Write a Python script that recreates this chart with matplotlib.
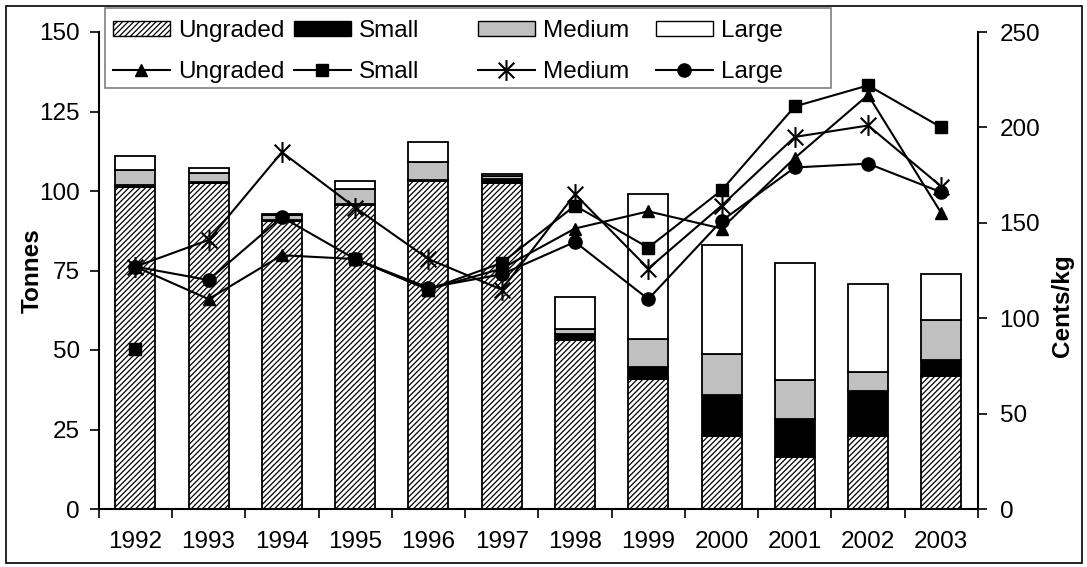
import numpy as np
import matplotlib
matplotlib.use('Agg')
import matplotlib.pyplot as plt
from matplotlib.path import Path
from matplotlib.patches import Rectangle, Patch
from matplotlib.lines import Line2D

plt.rcParams['font.family'] = ['Liberation Sans', 'DejaVu Sans']
plt.rcParams['hatch.linewidth'] = 0.9
plt.rcParams['hatch.color'] = 'black'

# ---- data ----
years = ['1992', '1993', '1994', '1995', '1996', '1997',
         '1998', '1999', '2000', '2001', '2002', '2003']
# Tonnes (stacked bars)
ungraded_t = [101.4, 102.5, 90.5, 95.5, 103.3, 102.6, 53.0, 41.0, 22.8, 16.5, 22.8, 41.7]
small_t    = [0.6, 0.3, 0.3, 0.4, 0.3, 1.2, 2.0, 3.6, 13.1, 11.8, 14.3, 5.3]
medium_t   = [4.6, 2.8, 1.7, 4.6, 5.5, 0.8, 1.7, 9.0, 12.9, 12.3, 6.1, 12.4]
large_t    = [4.4, 1.6, 0.3, 2.5, 6.3, 0.7, 10.1, 45.5, 34.3, 36.9, 27.6, 14.5]
# Cents/kg (lines)
ungraded_c = [127, 110, 133, 131, 115, 126, 147, 156, 147, 184, 217, 155]
small_c    = [84, np.nan, np.nan, 131, 115, 129, 159, 137, 167, 211, 222, 200]
medium_c   = [127, 141, 187, 158, 131, 115, 165, 126, 159, 195, 201, 169]
large_c    = [127, 120, 153, 131, 116, 123, 140, 110, 151, 179, 181, 166]
labels = ['Ungraded', 'Small', 'Medium', 'Large']

W, H = 1087, 567
fig = plt.figure(figsize=(W / 100, H / 100), dpi=100)

def fx(px):
    return px / W

def fy(py):
    return 1 - py / H

AX_L, AX_R = 98.7, 978
ax = fig.add_axes([fx(AX_L), fy(509), fx(AX_R) - fx(AX_L), fy(32) - fy(509)])
ax2 = ax.twinx()

x = np.arange(len(years))
bw = 0.546
ec = 'black'
lw_bar = 1.3
hatch = '//////'
b1 = ax.bar(x, ungraded_t, bw, color='white', edgecolor=ec, linewidth=lw_bar, hatch=hatch)
b2 = ax.bar(x, small_t, bw, bottom=np.array(ungraded_t), color='black', edgecolor=ec, linewidth=lw_bar)
bot3 = np.array(ungraded_t) + np.array(small_t)
b3 = ax.bar(x, medium_t, bw, bottom=bot3, color='#c0c0c0', edgecolor=ec, linewidth=lw_bar)
bot4 = bot3 + np.array(medium_t)
b4 = ax.bar(x, large_t, bw, bottom=bot4, color='white', edgecolor=ec, linewidth=lw_bar)

star = Path([(0, -1), (0, 1), (-0.75, -0.75), (0.75, 0.75), (-0.75, 0.75), (0.75, -0.75)],
            [Path.MOVETO, Path.LINETO, Path.MOVETO, Path.LINETO, Path.MOVETO, Path.LINETO])

lk = dict(color='black', linewidth=1.5)
l1, = ax2.plot(x, ungraded_c, marker='^', markersize=9, **lk)
l2, = ax2.plot(x, small_c, marker='s', markersize=9, **lk)
l3, = ax2.plot(x, medium_c, marker=star, markersize=15, markerfacecolor='none',
               markeredgecolor='black', markeredgewidth=1.5, **lk)
l4, = ax2.plot(x, large_c, marker='o', markersize=9.5, **lk)

ax.set_xlim(-0.5, len(years) - 0.5)
ax.set_ylim(0, 150)
ax2.set_ylim(0, 250)
ax.set_yticks(np.arange(0, 151, 25))
ax2.set_yticks(np.arange(0, 251, 50))
ax.set_xticks(x)
ax.set_xticklabels(years)
ax.set_xticks(np.arange(-0.5, len(years), 1), minor=True)

fs = 17.5
ax.tick_params(axis='x', which='major', length=0, pad=16, labelsize=fs)
ax.tick_params(axis='x', which='minor', length=6.5, width=1.2, direction='out')
ax.tick_params(axis='y', length=6.5, width=1.2, pad=7, labelsize=fs, direction='out')
ax2.tick_params(axis='y', length=6.5, width=1.2, pad=9, labelsize=fs, direction='out')

for a in (ax, ax2):
    a.spines['top'].set_visible(False)
    for s in a.spines.values():
        s.set_linewidth(1.5)
ax.spines['right'].set_visible(False)
ax2.spines['left'].set_visible(False)
ax2.spines['bottom'].set_visible(False)
ax.patch.set_visible(False)

span = AX_R - AX_L
ax.set_ylabel('Tonnes', fontsize=fs, fontweight='bold')
ax.yaxis.set_label_coords((44 - AX_L) / span, 0.5)
ax2.set_ylabel('Cents/kg', fontsize=fs, fontweight='bold')
ax2.yaxis.set_label_coords((1051 - AX_L) / span, (509 - 306) / 477)

# figure border
fig.patches.append(Rectangle((fx(6), fy(563)), fx(1082) - fx(6), fy(6) - fy(563),
                             transform=fig.transFigure, fill=False, edgecolor='black',
                             linewidth=1.2, zorder=0))
# legend frame
fig.patches.append(Rectangle((fx(105), fy(88)), fx(831) - fx(105), fy(8) - fy(88),
                             transform=fig.transFigure, facecolor='white', edgecolor='#808080',
                             linewidth=1.2, zorder=5))

bar_handles = [
    Patch(facecolor='white', edgecolor='black', hatch=hatch, linewidth=1.0),
    Patch(facecolor='black', edgecolor='black', linewidth=1.0),
    Patch(facecolor='#c0c0c0', edgecolor='black', linewidth=1.0),
    Patch(facecolor='white', edgecolor='black', linewidth=1.0),
]
line_handles = [
    Line2D([], [], color='black', lw=1.5, marker='^', markersize=9),
    Line2D([], [], color='black', lw=1.5, marker='s', markersize=9),
    Line2D([], [], color='black', lw=1.5, marker=star, markersize=15,
           markerfacecolor='none', markeredgewidth=1.5),
    Line2D([], [], color='black', lw=1.5, marker='o', markersize=9.5),
]
col_x = [113, 294, 478, 656]
for i in range(4):
    leg = fig.legend([bar_handles[i], line_handles[i]], [labels[i], labels[i]],
                     loc='upper left', bbox_to_anchor=(fx(col_x[i]), fy(20)),
                     frameon=False, borderpad=0, borderaxespad=0,
                     handlelength=2.33, handleheight=0.55, handletextpad=0.33,
                     labelspacing=0.8, fontsize=fs, numpoints=1)
    leg.set_zorder(6)

fig.savefig('out.png', dpi=100)
